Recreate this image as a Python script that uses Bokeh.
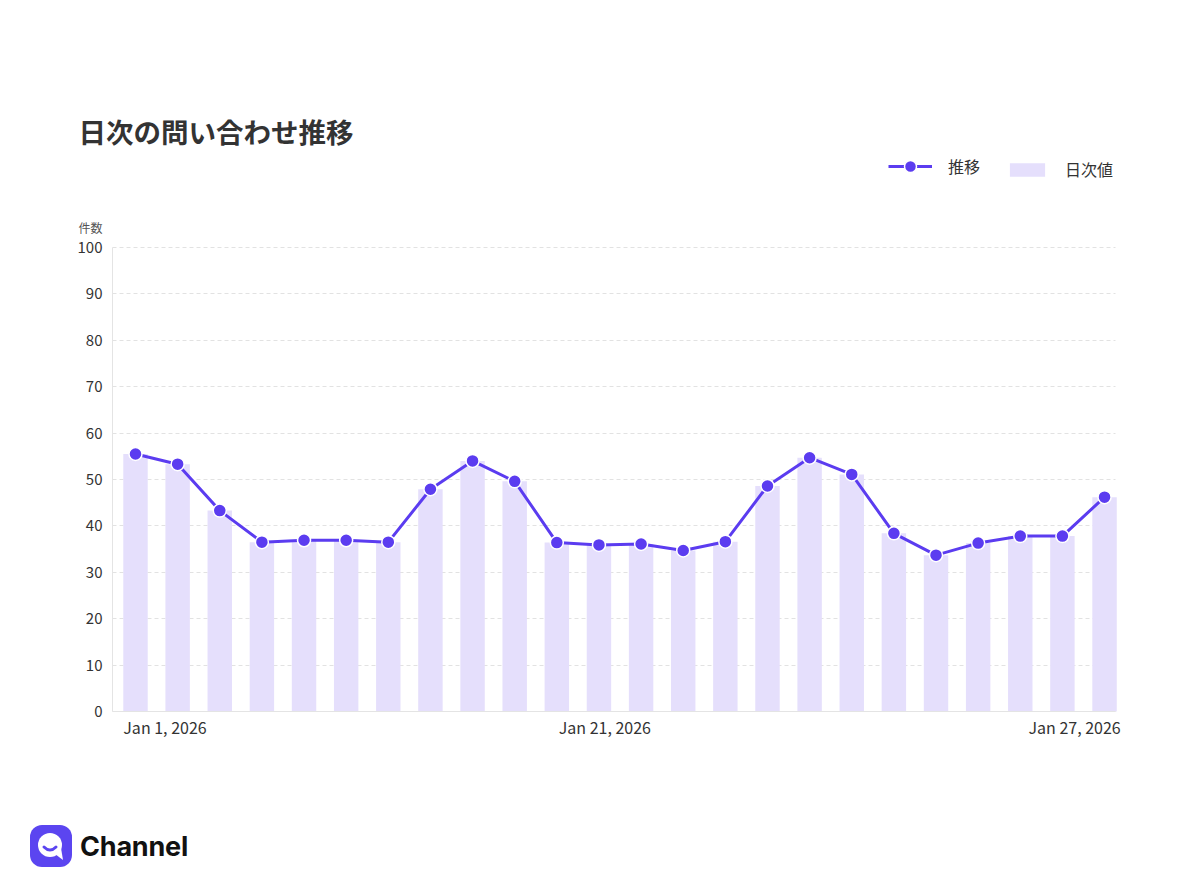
from bokeh.plotting import figure
from bokeh.models import Range1d, FixedTicker, Legend, LegendItem, ColumnDataSource, Label, Div
from bokeh.layouts import column
from bokeh.embed import file_html
from bokeh.resources import INLINE

# ---------------- data ----------------
title_text = "日次の問い合わせ推移"
y_title = "件数"
series_line = "推移"
series_bar = "日次値"
daily = [55.5, 53.3, 43.3, 36.5, 36.9, 36.9, 36.5, 47.9, 54.0, 49.6, 36.4, 35.9,
         36.1, 34.7, 36.6, 48.6, 54.7, 51.1, 38.4, 33.7, 36.3, 37.8, 37.8, 46.2]
trend = list(daily)
x_tick_labels = ["Jan 1, 2026", "Jan 21, 2026", "Jan 27, 2026"]
x_tick_pos = [0.70, 11.14, 22.29]
y_ticks = [0, 10, 20, 30, 40, 50, 60, 70, 80, 90, 100]
brand = "Channel"

FONT = "Noto Sans CJK JP"
LINE = "#5B3CF0"
BAR = "#E5DFFC"
TXT = "#333333"

# layout constants (pixels / data extents)
PX = 4.64                       # pixels per y unit
XS = 42.13                      # pixels per x unit
X0, X1 = -0.546, 23.26          # chart area in x data units
Y_BOT = -(750 - 711) / PX       # frame extends below 0 for the x labels
Y_TOP = Y_BOT + (750 - 100) / PX  # and above 100 for title / legend

idx = list(range(len(daily)))
src = ColumnDataSource(dict(x=idx, daily=daily, trend=trend))

p = figure(width=1188, height=780, output_backend="svg", toolbar_location=None,
           x_range=Range1d(-(135 - 60) / XS, X1 + 33 / XS), y_range=Range1d(Y_BOT, Y_TOP),
           min_border_left=60, min_border_right=40, min_border_top=100, min_border_bottom=30)
p.outline_line_color = None
p.background_fill_color = "white"
p.border_fill_color = "white"

bars = p.vbar(x="x", top="daily", bottom=0, width=0.58, source=src, fill_color=BAR, line_color=None)
ln = p.line("x", "trend", source=src, line_color=LINE, line_width=3)
pts = p.scatter("x", "trend", source=src, size=13, fill_color=LINE, line_color="white", line_width=1.5)

# axes
p.yaxis.ticker = FixedTicker(ticks=y_ticks)
p.yaxis.fixed_location = X0
p.yaxis.bounds = (0, 100)
p.xaxis.ticker = FixedTicker(ticks=x_tick_pos)
p.xaxis.fixed_location = 0
p.xaxis.bounds = (X0, X1)
p.xaxis.major_label_overrides = {pos: lab for pos, lab in zip(x_tick_pos, x_tick_labels)}
for ax in (p.xaxis, p.yaxis):
    ax.major_tick_line_color = None
    ax.minor_tick_line_color = None
    ax.major_tick_out = 0
    ax.minor_tick_out = 0
    ax.axis_line_color = "#e4e4e4"
    ax.major_label_text_font = FONT
    ax.major_label_text_color = TXT
p.yaxis.major_label_text_font_size = "15px"
p.xaxis.major_label_text_font_size = "16px"
p.yaxis.major_label_standoff = 10
p.xaxis.major_label_standoff = 3

p.xgrid.grid_line_color = None
p.ygrid.grid_line_color = "#e2e2e2"
p.ygrid.grid_line_dash = "4 3"
p.ygrid.cross_bounds = (X0, X1)

# title & axis title (inside the enlarged frame)
p.add_layout(Label(x=18, y=620, x_units="screen", y_units="screen", text=title_text,
                   text_font=FONT, text_font_size="27.5px", text_font_style="bold",
                   text_color=TXT, text_baseline="middle"))
p.add_layout(Label(x=18, y=523, x_units="screen", y_units="screen", text=y_title,
                   text_font=FONT, text_font_size="12px", text_color="#555555",
                   text_baseline="middle"))

# legends
common = dict(orientation="horizontal", padding=0, margin=0, border_line_color=None,
              background_fill_alpha=0, label_text_font=FONT, label_text_font_size="16px",
              label_text_color=TXT, label_standoff=16, glyph_width=44)
leg1 = Legend(items=[LegendItem(label=series_line, renderers=[ln, pts])],
              location=(828, 569), glyph_height=30, **common)
leg2 = Legend(items=[LegendItem(label=series_bar, renderers=[bars])],
              location=(945, 569), glyph_height=17, **common)
p.add_layout(leg1)
p.add_layout(leg2)

# ---- logo ----
logo_html = (
    '<div style="position:relative;width:300px;height:100px;">'
    '<svg width="42" height="42" viewBox="0 0 42 42" style="position:absolute;left:25px;top:40px">'
    '<rect width="42" height="42" rx="12" fill="#5B45F0"/>'
    '<circle cx="20" cy="20" r="12" fill="white"/>'
    '<path d="M25 29 L33 35 L31 23 Z" fill="white"/>'
    '<path d="M14 22 Q20 28 26 22" stroke="#5B45F0" stroke-width="3" fill="none" stroke-linecap="round"/>'
    '</svg>'
    '<span style="position:absolute;left:75px;top:45px;line-height:34px;font-family:Inter;'
    'font-weight:700;font-size:27px;color:#111111;letter-spacing:-0.2px;">' + brand + '</span></div>'
)
logo = Div(text=logo_html, width=300, height=100)

layout = column(p, logo, spacing=0)
open("out.html", "w").write(file_html(layout, INLINE))
